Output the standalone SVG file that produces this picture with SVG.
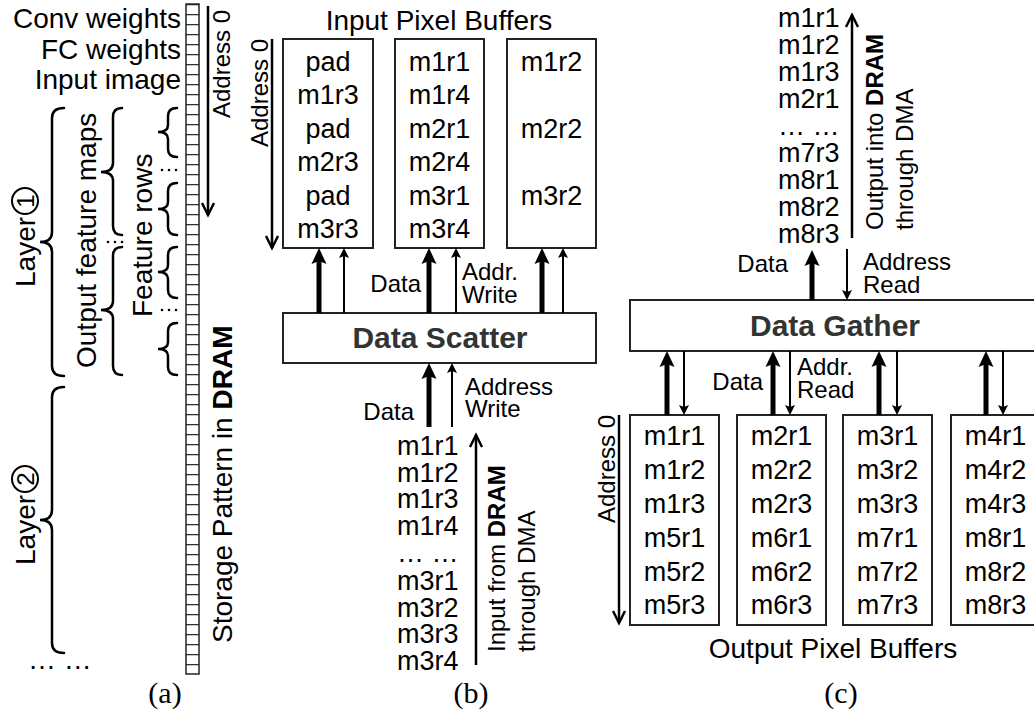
<svg xmlns="http://www.w3.org/2000/svg" width="1034" height="715" viewBox="0 0 1034 715">
<style>
 text { font-family: "Liberation Sans", Arial, sans-serif; fill:#000; }
 .t28 { font-size:28px; }
 .t27 { font-size:27px; }
 .t24 { font-size:24px; }
 .mid { text-anchor:middle; }
 .end { text-anchor:end; }
 .b { font-weight:bold; }
 .cap { font-family:"Liberation Serif", "Times New Roman", serif; font-size:30px; text-anchor:middle; }
 .box { fill:#fff; stroke:#222; stroke-width:2; }
 .brace { fill:none; stroke:#000; stroke-width:2.5; stroke-linecap:round; }
 .thick { stroke:#000; stroke-width:5; fill:none; marker-end:url(#ahThick); }
 .thin { stroke:#000; stroke-width:2; fill:none; marker-end:url(#ahThin); }
 .dir { stroke:#000; stroke-width:2.5; fill:none; marker-end:url(#chev); }
 .title { font-size:30px; font-weight:bold; fill:#333; text-anchor:middle; }
 .dot { fill:#000; }
</style>
<defs>
 <marker id="ahThick" markerUnits="userSpaceOnUse" markerWidth="16" markerHeight="15" refX="6" refY="7.5" orient="auto" overflow="visible">
  <path d="M0,0 L16,7.5 L0,15 L3,7.5 z" fill="#000"/>
 </marker>
 <marker id="ahThin" markerUnits="userSpaceOnUse" markerWidth="10" markerHeight="10" refX="4" refY="5" orient="auto" overflow="visible">
  <path d="M0,0 L10,5 L0,10 L2,5 z" fill="#000"/>
 </marker>
 <marker id="chev" markerUnits="userSpaceOnUse" markerWidth="14" markerHeight="14" refX="12" refY="6" orient="auto" overflow="visible">
  <path d="M0,0 L12,6 L0,12" fill="none" stroke="#000" stroke-width="2.5"/>
 </marker>
 <pattern id="cells" patternUnits="userSpaceOnUse" x="186" y="4" width="13" height="10">
  <rect x="0" y="0" width="13" height="1.3" fill="#333"/>
 </pattern>
</defs>
<rect width="1034" height="715" fill="#fff"/>

<!-- (a) DRAM storage pattern -->
<g id="dram-strip">
 <rect x="186" y="4" width="13" height="670" fill="url(#cells)" stroke="#222" stroke-width="1.5"/>
</g>
<g id="labels-a">
 <text class="t28 end" x="181" y="28">Conv weights</text>
 <text class="t28 end" x="181" y="59">FC weights</text>
 <text class="t28 end" x="181" y="89">Input image</text>
 <text class="t24" transform="translate(230,118) rotate(-90)">Address 0</text>
 <text class="t28" transform="translate(232,643) rotate(-90)">Storage Pattern in <tspan class="b">DRAM</tspan></text>
 <text class="t28" transform="translate(96,368) rotate(-90)">Output feature maps</text>
 <text class="t28" transform="translate(152,317) rotate(-90)">Feature rows</text>
 <g id="layer1" transform="translate(35,287) rotate(-90)">
  <text class="t28" x="0" y="0">Layer</text>
  <circle cx="86" cy="-10" r="13" fill="none" stroke="#000" stroke-width="2"/>
  <text class="t24 mid" x="86" y="-1.5">1</text>
 </g>
 <g id="layer2" transform="translate(35,565) rotate(-90)">
  <text class="t28" x="0" y="0">Layer</text>
  <circle cx="86" cy="-10" r="13" fill="none" stroke="#000" stroke-width="2"/>
  <text class="t24 mid" x="86" y="-1.5">2</text>
 </g>
 <text class="t28" x="28" y="669">… …</text>
 <text class="cap" x="165" y="703">(a)</text>
</g>
<g id="braces-a">
 <path class="brace" d="M64,108 Q52,108 52,118 L52,232 Q52,242 40,242 Q52,242 52,252 L52,366 Q52,376 64,376"/>
 <path class="brace" d="M64,387 Q52,387 52,397 L52,510 Q52,520 40,520 Q52,520 52,530 L52,643 Q52,653 64,653"/>
 <path class="brace" d="M122,108 Q113,108 113,117 L113,163 Q113,172 101,172 Q113,172 113,181 L113,226 Q113,235 122,235"/>
 <path class="brace" d="M122,247 Q113,247 113,256 L113,301 Q113,310 101,310 Q113,310 113,319 L113,366 Q113,375 122,375"/>
 <path class="brace" d="M177,108 Q168,108 168,116 L168,125 Q168,132 158,132 Q168,132 168,139 L168,149 Q168,157 177,157"/>
 <path class="brace" d="M177,183 Q168,183 168,191 L168,202 Q168,209 158,209 Q168,209 168,216 L168,227 Q168,235 177,235"/>
 <path class="brace" d="M177,247 Q168,247 168,255 L168,265 Q168,272 158,272 Q168,272 168,279 L168,290 Q168,298 177,298"/>
 <path class="brace" d="M177,323 Q168,323 168,331 L168,342 Q168,349 158,349 Q168,349 168,356 L168,367 Q168,375 177,375"/>
 <circle class="dot" cx="108" cy="242" r="1.3"/><circle class="dot" cx="115" cy="242" r="1.3"/><circle class="dot" cx="122" cy="242" r="1.3"/>
 <circle class="dot" cx="162" cy="170" r="1.3"/><circle class="dot" cx="169" cy="170" r="1.3"/><circle class="dot" cx="176" cy="170" r="1.3"/>
 <circle class="dot" cx="162" cy="310" r="1.3"/><circle class="dot" cx="169" cy="310" r="1.3"/><circle class="dot" cx="176" cy="310" r="1.3"/>
</g>

<!-- (b) -->
<text class="t28 mid" x="439" y="30">Input Pixel Buffers</text>
<text class="t24" transform="translate(268,147) rotate(-90)">Address 0</text>
<g id="inbuf1">
 <rect class="box" x="283" y="39" width="90" height="209"/>
 <text class="t27 mid" x="328" y="70.5">pad</text>
 <text class="t27 mid" x="328" y="104">m1r3</text>
 <text class="t27 mid" x="328" y="137.5">pad</text>
 <text class="t27 mid" x="328" y="171">m2r3</text>
 <text class="t27 mid" x="328" y="204.5">pad</text>
 <text class="t27 mid" x="328" y="238">m3r3</text>
</g>
<g id="inbuf2">
 <rect class="box" x="395" y="39" width="89" height="209"/>
 <text class="t27 mid" x="439.5" y="70.5">m1r1</text>
 <text class="t27 mid" x="439.5" y="104">m1r4</text>
 <text class="t27 mid" x="439.5" y="137.5">m2r1</text>
 <text class="t27 mid" x="439.5" y="171">m2r4</text>
 <text class="t27 mid" x="439.5" y="204.5">m3r1</text>
 <text class="t27 mid" x="439.5" y="238">m3r4</text>
</g>
<g id="inbuf3">
 <rect class="box" x="507" y="39" width="89" height="209"/>
 <text class="t27 mid" x="551.5" y="70.5">m1r2</text>
 <text class="t27 mid" x="551.5" y="137.5">m2r2</text>
 <text class="t27 mid" x="551.5" y="204.5">m3r2</text>
</g>
<g id="scatter">
 <rect class="box" x="283" y="313" width="313" height="50"/>
 <text class="title" x="440" y="348">Data Scatter</text>
</g>
<g id="input-stream">
 <text class="t27" x="397" y="455">m1r1</text>
 <text class="t27" x="397" y="482">m1r2</text>
 <text class="t27" x="397" y="508">m1r3</text>
 <text class="t27" x="397" y="535">m1r4</text>
 <text class="t27" x="397" y="562">… …</text>
 <text class="t27" x="397" y="590">m3r1</text>
 <text class="t27" x="397" y="617">m3r2</text>
 <text class="t27" x="397" y="643">m3r3</text>
 <text class="t27" x="397" y="670">m3r4</text>
 <text class="t24" transform="translate(505,652) rotate(-90)">Input from <tspan class="b">DRAM</tspan></text>
 <text class="t24" transform="translate(535,652) rotate(-90)">through DMA</text>
</g>
<g id="labels-b">
 <text class="t24 end" x="421" y="292">Data</text>
 <text class="t24" x="462" y="280">Addr.</text>
 <text class="t24" x="462" y="303">Write</text>
 <text class="t24 end" x="414" y="420">Data</text>
 <text class="t24" x="465" y="395">Address</text>
 <text class="t24" x="465" y="417">Write</text>
 <text class="cap" x="471" y="703">(b)</text>
</g>

<!-- (c) -->
<g id="output-stream">
 <text class="t27" x="778" y="27">m1r1</text>
 <text class="t27" x="778" y="54">m1r2</text>
 <text class="t27" x="778" y="81">m1r3</text>
 <text class="t27" x="778" y="108">m2r1</text>
 <text class="t27" x="778" y="135">… …</text>
 <text class="t27" x="778" y="162">m7r3</text>
 <text class="t27" x="778" y="189">m8r1</text>
 <text class="t27" x="778" y="216">m8r2</text>
 <text class="t27" x="778" y="243">m8r3</text>
 <text class="t24" transform="translate(883,230) rotate(-90)">Output into <tspan class="b">DRAM</tspan></text>
 <text class="t24" transform="translate(913,230) rotate(-90)">through DMA</text>
</g>
<g id="gather">
 <rect class="box" x="630" y="300" width="420" height="51"/>
 <text class="title" x="835" y="336">Data Gather</text>
</g>
<text class="t24" transform="translate(615,523) rotate(-90)">Address 0</text>
<g id="outbuf1">
 <rect class="box" x="630" y="415" width="89" height="210"/>
 <text class="t27 mid" x="674.5" y="445">m1r1</text>
 <text class="t27 mid" x="674.5" y="479">m1r2</text>
 <text class="t27 mid" x="674.5" y="513">m1r3</text>
 <text class="t27 mid" x="674.5" y="547">m5r1</text>
 <text class="t27 mid" x="674.5" y="581">m5r2</text>
 <text class="t27 mid" x="674.5" y="614">m5r3</text>
</g>
<g id="outbuf2">
 <rect class="box" x="737" y="415" width="89" height="210"/>
 <text class="t27 mid" x="781.5" y="445">m2r1</text>
 <text class="t27 mid" x="781.5" y="479">m2r2</text>
 <text class="t27 mid" x="781.5" y="513">m2r3</text>
 <text class="t27 mid" x="781.5" y="547">m6r1</text>
 <text class="t27 mid" x="781.5" y="581">m6r2</text>
 <text class="t27 mid" x="781.5" y="614">m6r3</text>
</g>
<g id="outbuf3">
 <rect class="box" x="843" y="415" width="89" height="210"/>
 <text class="t27 mid" x="887.5" y="445">m3r1</text>
 <text class="t27 mid" x="887.5" y="479">m3r2</text>
 <text class="t27 mid" x="887.5" y="513">m3r3</text>
 <text class="t27 mid" x="887.5" y="547">m7r1</text>
 <text class="t27 mid" x="887.5" y="581">m7r2</text>
 <text class="t27 mid" x="887.5" y="614">m7r3</text>
</g>
<g id="outbuf4">
 <rect class="box" x="951" y="415" width="89" height="210"/>
 <text class="t27 mid" x="995.5" y="445">m4r1</text>
 <text class="t27 mid" x="995.5" y="479">m4r2</text>
 <text class="t27 mid" x="995.5" y="513">m4r3</text>
 <text class="t27 mid" x="995.5" y="547">m8r1</text>
 <text class="t27 mid" x="995.5" y="581">m8r2</text>
 <text class="t27 mid" x="995.5" y="614">m8r3</text>
</g>
<g id="labels-c">
 <text class="t24 end" x="788" y="272">Data</text>
 <text class="t24" x="863" y="270">Address</text>
 <text class="t24" x="863" y="293">Read</text>
 <text class="t24 end" x="763" y="390">Data</text>
 <text class="t24" x="797" y="375">Addr.</text>
 <text class="t24" x="797" y="398">Read</text>
 <text class="t28 mid" x="833" y="658">Output Pixel Buffers</text>
 <text class="cap" x="841" y="703">(c)</text>
</g>

<g id="connectors">
 <line class="dir" x1="208" y1="6" x2="208" y2="215"/>
 <line class="dir" x1="272" y1="39" x2="272" y2="248"/>
 <line class="dir" x1="476" y1="665" x2="476" y2="435"/>
 <line class="dir" x1="852" y1="238" x2="852" y2="15"/>
 <line class="dir" x1="619" y1="415" x2="619" y2="623"/>

 <line class="thick" x1="319" y1="313" x2="319" y2="258"/>
 <line class="thin" x1="344" y1="313" x2="344" y2="254"/>
 <line class="thick" x1="429" y1="313" x2="429" y2="258"/>
 <line class="thin" x1="456" y1="313" x2="456" y2="254"/>
 <line class="thick" x1="542" y1="313" x2="542" y2="258"/>
 <line class="thin" x1="563" y1="313" x2="563" y2="254"/>

 <line class="thick" x1="429" y1="427" x2="429" y2="373"/>
 <line class="thin" x1="452" y1="427" x2="452" y2="369"/>

 <line class="thick" x1="812" y1="300" x2="812" y2="260"/>
 <line class="thin" x1="847" y1="249" x2="847" y2="294"/>

 <line class="thick" x1="667" y1="415" x2="667" y2="361"/>
 <line class="thin" x1="684" y1="351" x2="684" y2="409"/>
 <line class="thick" x1="773" y1="415" x2="773" y2="361"/>
 <line class="thin" x1="790" y1="351" x2="790" y2="409"/>
 <line class="thick" x1="879" y1="415" x2="879" y2="361"/>
 <line class="thin" x1="897" y1="351" x2="897" y2="409"/>
 <line class="thick" x1="986" y1="415" x2="986" y2="361"/>
 <line class="thin" x1="1003" y1="351" x2="1003" y2="409"/>
</g>
</svg>
